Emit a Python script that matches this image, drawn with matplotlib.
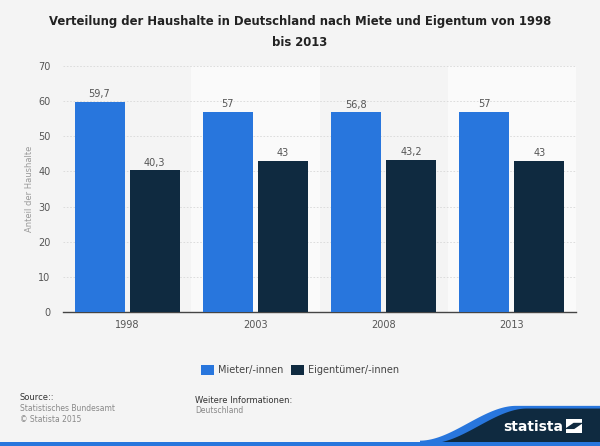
import matplotlib.pyplot as plt
import matplotlib.patches as mpatches
import numpy as np

# data
years = ['1998', '2003', '2008', '2013']
mieter = [59.7, 57, 56.8, 57]
eigentum = [40.3, 43, 43.2, 43]
labels_m = ['59,7', '57', '56,8', '57']
labels_e = ['40,3', '43', '43,2', '43']

blue = '#2876dd'
navy = '#0f2a40'
bg = '#f4f4f4'

fig = plt.figure(figsize=(6, 4.46), dpi=100, facecolor=bg)
ax = fig.add_axes([0.105, 0.3004, 0.855, 0.5516])
ax.set_facecolor(bg)

x = np.arange(len(years))
w = 0.39
off = 0.215

# alternating bands
for i in x:
    if i % 2 == 1:
        ax.axvspan(i - 0.5, i + 0.5, color='#fafafa', zorder=0, lw=0)

b1 = ax.bar(x - off, mieter, w, color=blue, label='Mieter/-innen', zorder=3)
b2 = ax.bar(x + off, eigentum, w, color=navy, label='Eigentümer/-innen', zorder=3)

for xi, v, t in zip(x, mieter, labels_m):
    ax.text(xi - off, v + 0.8, t, ha='center', va='bottom', fontsize=7, color='#555555')
for xi, v, t in zip(x, eigentum, labels_e):
    ax.text(xi + off, v + 0.8, t, ha='center', va='bottom', fontsize=7, color='#555555')

ax.set_xlim(-0.5, 3.5)
ax.set_ylim(0, 70)
ax.set_yticks(range(0, 71, 10))
ax.set_xticks(x)
ax.set_xticklabels(years)
ax.yaxis.grid(True, ls=(0, (2, 2)), color='#d8d8d8', lw=0.6, zorder=1)
ax.set_axisbelow(True)
for s in ['top', 'right', 'left']:
    ax.spines[s].set_visible(False)
ax.spines['bottom'].set_color('#444444')
ax.spines['bottom'].set_linewidth(1)
ax.tick_params(axis='y', length=0, labelsize=7, labelcolor='#555555', pad=9)
ax.tick_params(axis='x', length=0, labelsize=7, labelcolor='#555555', pad=6)
ax.set_ylabel('Anteil der Haushalte', fontsize=6, color='#999999', labelpad=3)

fig.text(0.5, 0.966, 'Verteilung der Haushalte in Deutschland nach Miete und Eigentum von 1998\nbis 2013',
         ha='center', va='top', fontsize=8.4, fontweight='bold', color='#222222', linespacing=1.75)

fig.legend(handles=[b1, b2], loc='center', bbox_to_anchor=(0.5, 0.17), ncol=2, frameon=False,
           fontsize=7, handlelength=1.3, handleheight=1.1, handletextpad=0.4, columnspacing=0.8,
           labelcolor='#444444')

# footer
fig.text(0.033, 0.108, 'Source::', fontsize=6, color='#333333', va='center')
fig.text(0.033, 0.083, 'Statistisches Bundesamt', fontsize=5.5, color='#888888', va='center')
fig.text(0.033, 0.060, '© Statista 2015', fontsize=5.5, color='#888888', va='center')
fig.text(0.325, 0.103, 'Weitere Informationen:', fontsize=6, color='#333333', va='center')
fig.text(0.325, 0.079, 'Deutschland', fontsize=5.5, color='#888888', va='center')

# logo swoosh
xs = np.linspace(0.70, 0.86, 60)
t = (xs - 0.70) / 0.16
ys = 0.012 + 0.078 * (3 * t ** 2 - 2 * t ** 3)
poly_blue = np.column_stack([np.r_[xs, 1.0, 1.0, 0.70], np.r_[ys, ys[-1], 0.0, 0.0]])
poly_navy = np.column_stack([np.r_[xs + 0.018, 1.0, 1.0, 0.718], np.r_[ys - 0.006, ys[-1] - 0.006, 0.0, 0.0]])
fig.patches.append(mpatches.Polygon(poly_blue, closed=True, transform=fig.transFigure, color=blue, lw=0))
fig.patches.append(mpatches.Polygon(poly_navy, closed=True, transform=fig.transFigure, color=navy, lw=0))
fig.patches.append(mpatches.Rectangle((0, 0), 1, 0.008, transform=fig.transFigure, color=blue, lw=0))
fig.text(0.888, 0.043, 'statista', fontsize=10, fontweight='bold', color='white', ha='center', va='center')
fig.patches.append(mpatches.Rectangle((0.943, 0.029), 0.027, 0.032, transform=fig.transFigure,
                                      color='white', lw=0))
fig.patches.append(mpatches.Polygon([[0.943, 0.040], [0.956, 0.052], [0.970, 0.052], [0.970, 0.050],
                                     [0.957, 0.038], [0.943, 0.038]], closed=True,
                                    transform=fig.transFigure, color=navy, lw=0))

fig.savefig('out.png', dpi=100, facecolor=bg)
